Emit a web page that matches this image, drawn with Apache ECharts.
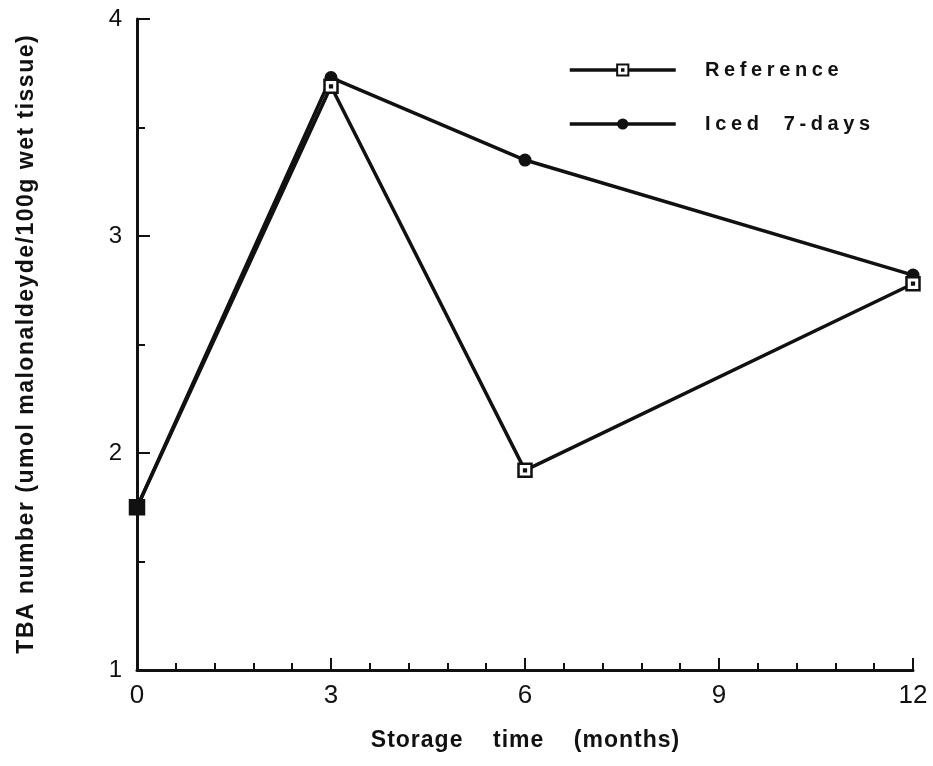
<!DOCTYPE html>
<html>
<head>
<meta charset="utf-8">
<script src="https://cdn.jsdelivr.net/npm/echarts@6/dist/echarts.min.js"></script>
<style>
  html, body { margin: 0; padding: 0; background: #fff; }
  #chart { width: 933px; height: 766px; }
</style>
</head>
<body>
<div id="chart"></div>
<script>
// Storage time in months
const months = [0, 3, 6, 12];
// TBA number (umol malonaldeyde / 100 g wet tissue)
const referenceTBA = [1.75, 3.69, 1.92, 2.78];
const icedTBA = [1.75, 3.73, 3.35, 2.82];

const seriesNames = ['Reference', 'Iced  7-days'];
const xTitle = 'Storage    time    (months)';
const yTitle = 'TBA number (umol malonaldeyde/100g wet tissue)';

const pairs = (xs, ys) => xs.map((x, i) => [x, ys[i]]);

// Wraps every character in its own rich-text token so that the
// token padding acts as letter spacing.
const spaced = (text, key) => text.split('').map(c => '{' + key + '|' + c + '}').join('');

// open square with a dot in the middle
const dotSquare = 'path://M0,0H12V12H0Z M5.2,5.2H6.8V6.8H5.2Z';

const ink = '#111';
const sans = 'Liberation Sans';

const chart = echarts.init(document.getElementById('chart'), null, { renderer: 'canvas' });

chart.setOption({
  backgroundColor: '#fff',
  animation: false,
  grid: { left: 137, right: 20, top: 19, bottom: 96, containLabel: false },
  legend: {
    orient: 'vertical',
    left: 563,
    top: 55,
    itemWidth: 106,
    itemHeight: 14,
    itemGap: 34,
    lineStyle: { width: 3.5 },
    formatter: name => spaced(name, 'L'),
    textStyle: {
      color: ink,
      padding: [0, 0, 0, 22],
      rich: {
        L: { color: ink, fontFamily: sans, fontWeight: 'bold', fontSize: 20, lineHeight: 22, padding: [0, 2.3, 0, 2.3] }
      }
    },
    data: seriesNames
  },
  xAxis: {
    type: 'value',
    min: 0, max: 12, interval: 3,
    name: spaced(xTitle, 'X'),
    nameLocation: 'middle',
    nameGap: 58,
    nameTextStyle: {
      rich: {
        X: { color: ink, fontFamily: sans, fontWeight: 'bold', fontSize: 23, lineHeight: 26, padding: [0, 0.5, 0, 0.5] }
      }
    },
    axisLine: { lineStyle: { color: ink, width: 3 } },
    axisTick: { inside: true, length: 12, lineStyle: { color: ink, width: 2 } },
    minorTick: { show: true, splitNumber: 5, length: 7, lineStyle: { color: ink, width: 2 } },
    axisLabel: { margin: 13, color: ink, fontFamily: sans, fontSize: 26 },
    splitLine: { show: false }
  },
  yAxis: {
    type: 'value',
    min: 1, max: 4, interval: 1,
    name: spaced(yTitle, 'Y'),
    nameLocation: 'middle',
    nameGap: 97,
    nameTextStyle: {
      rich: {
        Y: { color: ink, fontFamily: sans, fontWeight: 'bold', fontSize: 23, lineHeight: 26, padding: [0, 0.75, 0, 0.75] }
      }
    },
    axisLine: { lineStyle: { color: ink, width: 3 } },
    axisTick: { inside: true, length: 13, lineStyle: { color: ink, width: 2 } },
    minorTick: { show: true, splitNumber: 2, length: 8, lineStyle: { color: ink, width: 2 } },
    axisLabel: { margin: 15, color: ink, fontFamily: sans, fontSize: 24 },
    splitLine: { show: false }
  },
  series: [
    {
      name: seriesNames[1],
      type: 'line',
      data: pairs(months, icedTBA),
      symbol: 'circle',
      symbolSize: 13,
      lineStyle: { color: ink, width: 3.5 },
      itemStyle: { color: ink, borderColor: ink, borderWidth: 0 },
      z: 2
    },
    {
      name: seriesNames[0],
      type: 'line',
      data: pairs(months, referenceTBA).map((p, i) => i === 0
        ? { value: p, symbol: 'rect', symbolSize: 14, itemStyle: { color: ink, borderColor: ink } }
        : p),
      symbol: dotSquare,
      symbolSize: 13,
      symbolKeepAspect: true,
      lineStyle: { color: ink, width: 3.5 },
      itemStyle: { color: '#fff', borderColor: ink, borderWidth: 2.5 },
      z: 3
    }
  ]
});
</script>
</body>
</html>
